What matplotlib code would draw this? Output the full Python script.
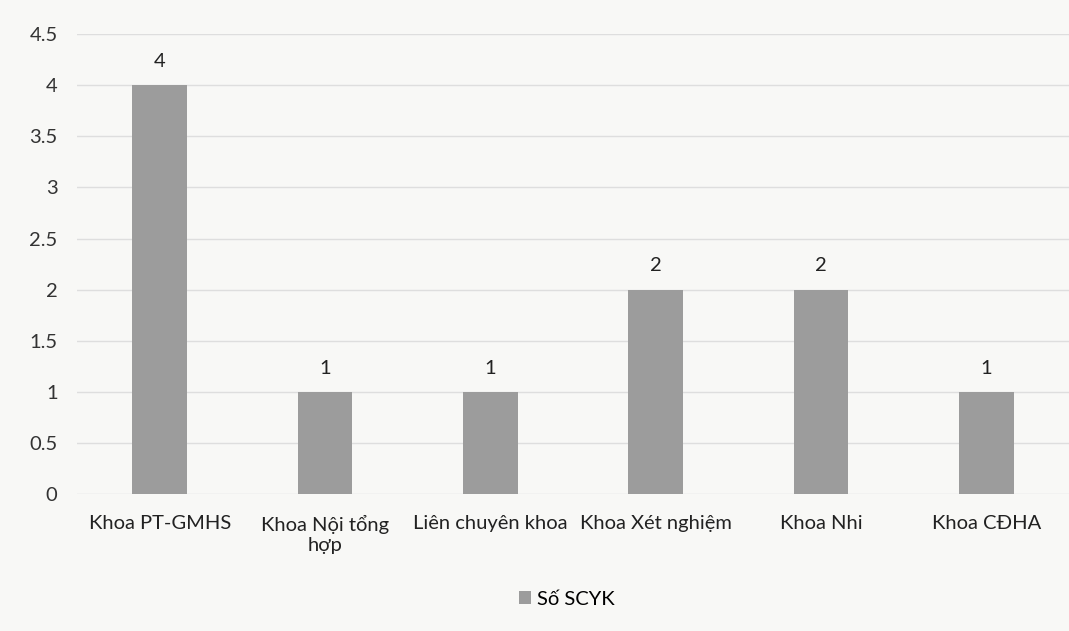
import matplotlib.pyplot as plt

plt.rcParams['font.family'] = ['Lato', 'DejaVu Sans']

categories = ['Khoa PT-GMHS', 'Khoa Nội tổng\nhợp', 'Liên chuyên khoa',
              'Khoa Xét nghiệm', 'Khoa Nhi', 'Khoa CĐHA']
values = [4, 1, 1, 2, 2, 1]
series_name = 'Số SCYK'
yticks = [0, 0.5, 1, 1.5, 2, 2.5, 3, 3.5, 4, 4.5]

fig = plt.figure(figsize=(10.69, 6.31), dpi=100, facecolor='#f8f8f6')
ax = fig.add_axes([0.072, 0.217, 0.928, 0.729])
ax.set_facecolor('#f8f8f6')

x = range(len(categories))
bars = ax.bar(x, values, width=0.33, color='#9c9c9c', label=series_name, zorder=3)

for xi, v in zip(x, values):
    ax.text(xi, v + 0.15, f'{v}', ha='center', va='bottom', fontsize=14.5, color='#222222')

ax.set_xlim(-0.5, len(categories) - 0.5)
ax.set_ylim(0, 4.5)
ax.set_yticks(yticks)
ax.set_yticklabels([f'{t:g}' for t in yticks], fontsize=14.5, color='#333333')
ax.set_xticks(list(x))
ax.set_xticklabels(categories, fontsize=14.5, color='#222222', linespacing=1.2)
ax.tick_params(axis='both', length=0)
ax.tick_params(axis='y', pad=14)
ax.tick_params(axis='x', pad=15)
ax.yaxis.grid(True, color='#dedede', linewidth=1, zorder=0)
for s in ax.spines.values():
    s.set_visible(False)

fig.legend(handles=[bars], labels=[series_name], loc='center', bbox_to_anchor=(0.53, 0.05),
           frameon=False, fontsize=14.5, handlelength=0.6, handleheight=0.6, handletextpad=0.3)

fig.savefig('out.png', dpi=100, facecolor=fig.get_facecolor())
